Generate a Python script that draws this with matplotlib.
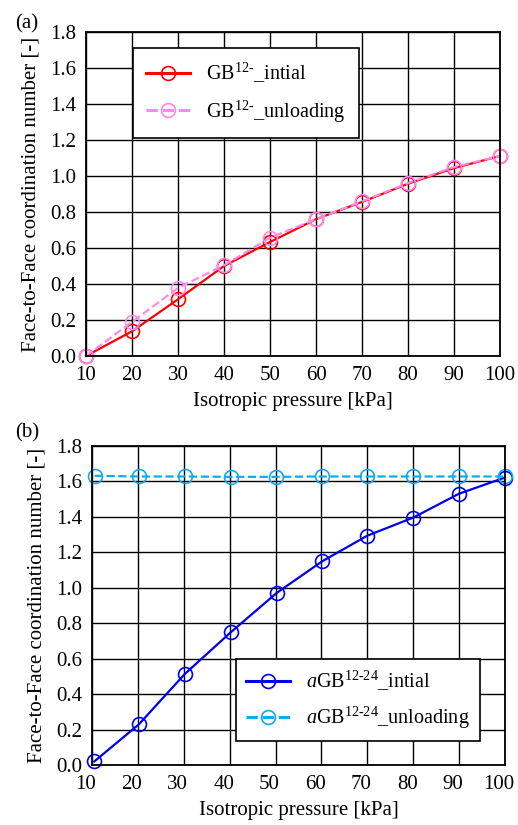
import matplotlib
matplotlib.use("Agg")
import matplotlib.pyplot as plt
from matplotlib.transforms import ScaledTranslation

plt.rcParams['font.family'] = ['Liberation Serif', 'DejaVu Serif']
plt.rcParams['mathtext.fontset'] = 'custom'
plt.rcParams['mathtext.rm'] = 'Liberation Serif'
plt.rcParams['mathtext.it'] = 'Liberation Serif:italic'

pressure = [10, 20, 30, 40, 50, 60, 70, 80, 90, 100]
gb_initial = [0.00, 0.137, 0.315, 0.50, 0.633, 0.76, 0.856, 0.957, 1.044, 1.111]
gb_unloading = [0.00, 0.189, 0.378, 0.504, 0.657, 0.76, 0.859, 0.961, 1.05, 1.111]

pressure_b_init = [10.5, 20.2, 30.2, 40.2, 50.3, 60.2, 70.0, 80.0, 90.0, 100.0]
agb_initial = [0.02, 0.229, 0.513, 0.748, 0.972, 1.15, 1.294, 1.396, 1.531, 1.622]
pressure_b_unl = [10.6, 20.2, 30.2, 40.2, 50.2, 60.2, 70.0, 80.0, 90.0, 100.0]
agb_unloading = [1.632, 1.628, 1.628, 1.626, 1.626, 1.628, 1.628, 1.628, 1.628, 1.628]

xticks = [10, 20, 30, 40, 50, 60, 70, 80, 90, 100]
yticks = [0.0, 0.2, 0.4, 0.6, 0.8, 1.0, 1.2, 1.4, 1.6, 1.8]

fig = plt.figure(figsize=(5.18, 8.25), dpi=100)
ax1 = fig.add_axes([86/518, 1-356/825, 414/518, 324/825])
ax2 = fig.add_axes([92/518, 1-765/825, 413/518, 319/825])

fs = 15
lfs = 14.5

def style(ax):
    ax.set_xlim(10, 100)
    ax.set_ylim(0, 1.8)
    ax.set_xticks(xticks)
    ax.set_yticks(yticks)
    ax.set_yticklabels([f"{v:.1f}" for v in yticks])
    ax.grid(True, color='black', linewidth=1.0)
    ax.set_axisbelow(True)
    ax.tick_params(length=0, pad=7, labelsize=fs)
    for s in ax.spines.values():
        s.set_linewidth(1.3)
        s.set_color('black')
    ax.set_xlabel("Isotropic pressure [kPa]", fontsize=fs, labelpad=5)
    ax.set_ylabel("Face-to-Face coordination number [-]", fontsize=fs, labelpad=7)

style(ax1)
ax1.plot(pressure, gb_initial, color='#ff0000', lw=1.6, marker='o', ms=10,
         mfc='none', mec='#ff0000', mew=1.2, label=r"GB$^{\mathrm{12}\text{-}}$_intial", clip_on=False)
ax1.plot(pressure, gb_unloading, color='#ff88ee', lw=1.6, ls='--', marker='o', ms=10,
         mfc='none', mec='#ff88ee', mew=1.2, label=r"GB$^{\mathrm{12}\text{-}}$_unloading", clip_on=False)
leg1 = ax1.legend(loc='upper left', bbox_to_anchor=(0.113, 0.95), fontsize=lfs,
                  frameon=True, fancybox=False, edgecolor='black', framealpha=1,
                  borderpad=0.65, labelspacing=0.65, handlelength=2.2, borderaxespad=0)
leg1.get_frame().set_linewidth(1.2)
for h in leg1.legend_handles:
    h.set_linewidth(2.2)

style(ax2)
ax2.plot(pressure_b_init, agb_initial, color='#0000ee', lw=1.6, marker='o', ms=10,
         mfc='none', mec='#0000ee', mew=1.2, label=r"$a$GB$^{\mathrm{12}\text{-}\mathrm{24}}$_intial", clip_on=False)
ax2.plot(pressure_b_unl, agb_unloading, color='#11aaee', lw=1.6, ls='--', marker='o', ms=10,
         mfc='none', mec='#11aaee', mew=1.2, label=r"$a$GB$^{\mathrm{12}\text{-}\mathrm{24}}$_unloading", clip_on=False)
leg2 = ax2.legend(loc='lower right', bbox_to_anchor=(0.94, 0.075), fontsize=lfs,
                  frameon=True, fancybox=False, edgecolor='black', framealpha=1,
                  borderpad=0.5, labelspacing=0.6, handlelength=2.2, borderaxespad=0)
leg2.get_frame().set_linewidth(1.2)
for h in leg2.legend_handles:
    h.set_linewidth(2.2)

# tick labels of panel (b) sit slightly left of the grid lines in the reference
shift = ScaledTranslation(-6/100, 0, fig.dpi_scale_trans)
for lab in ax2.get_xticklabels():
    lab.set_transform(lab.get_transform() + shift)

fig.text(15/518, 1-24/825, "(a)", fontsize=fs, va='center', ha='left')
fig.text(15/518, 1-433/825, "(b)", fontsize=fs, va='center', ha='left')

fig.savefig("out.png", dpi=100)
